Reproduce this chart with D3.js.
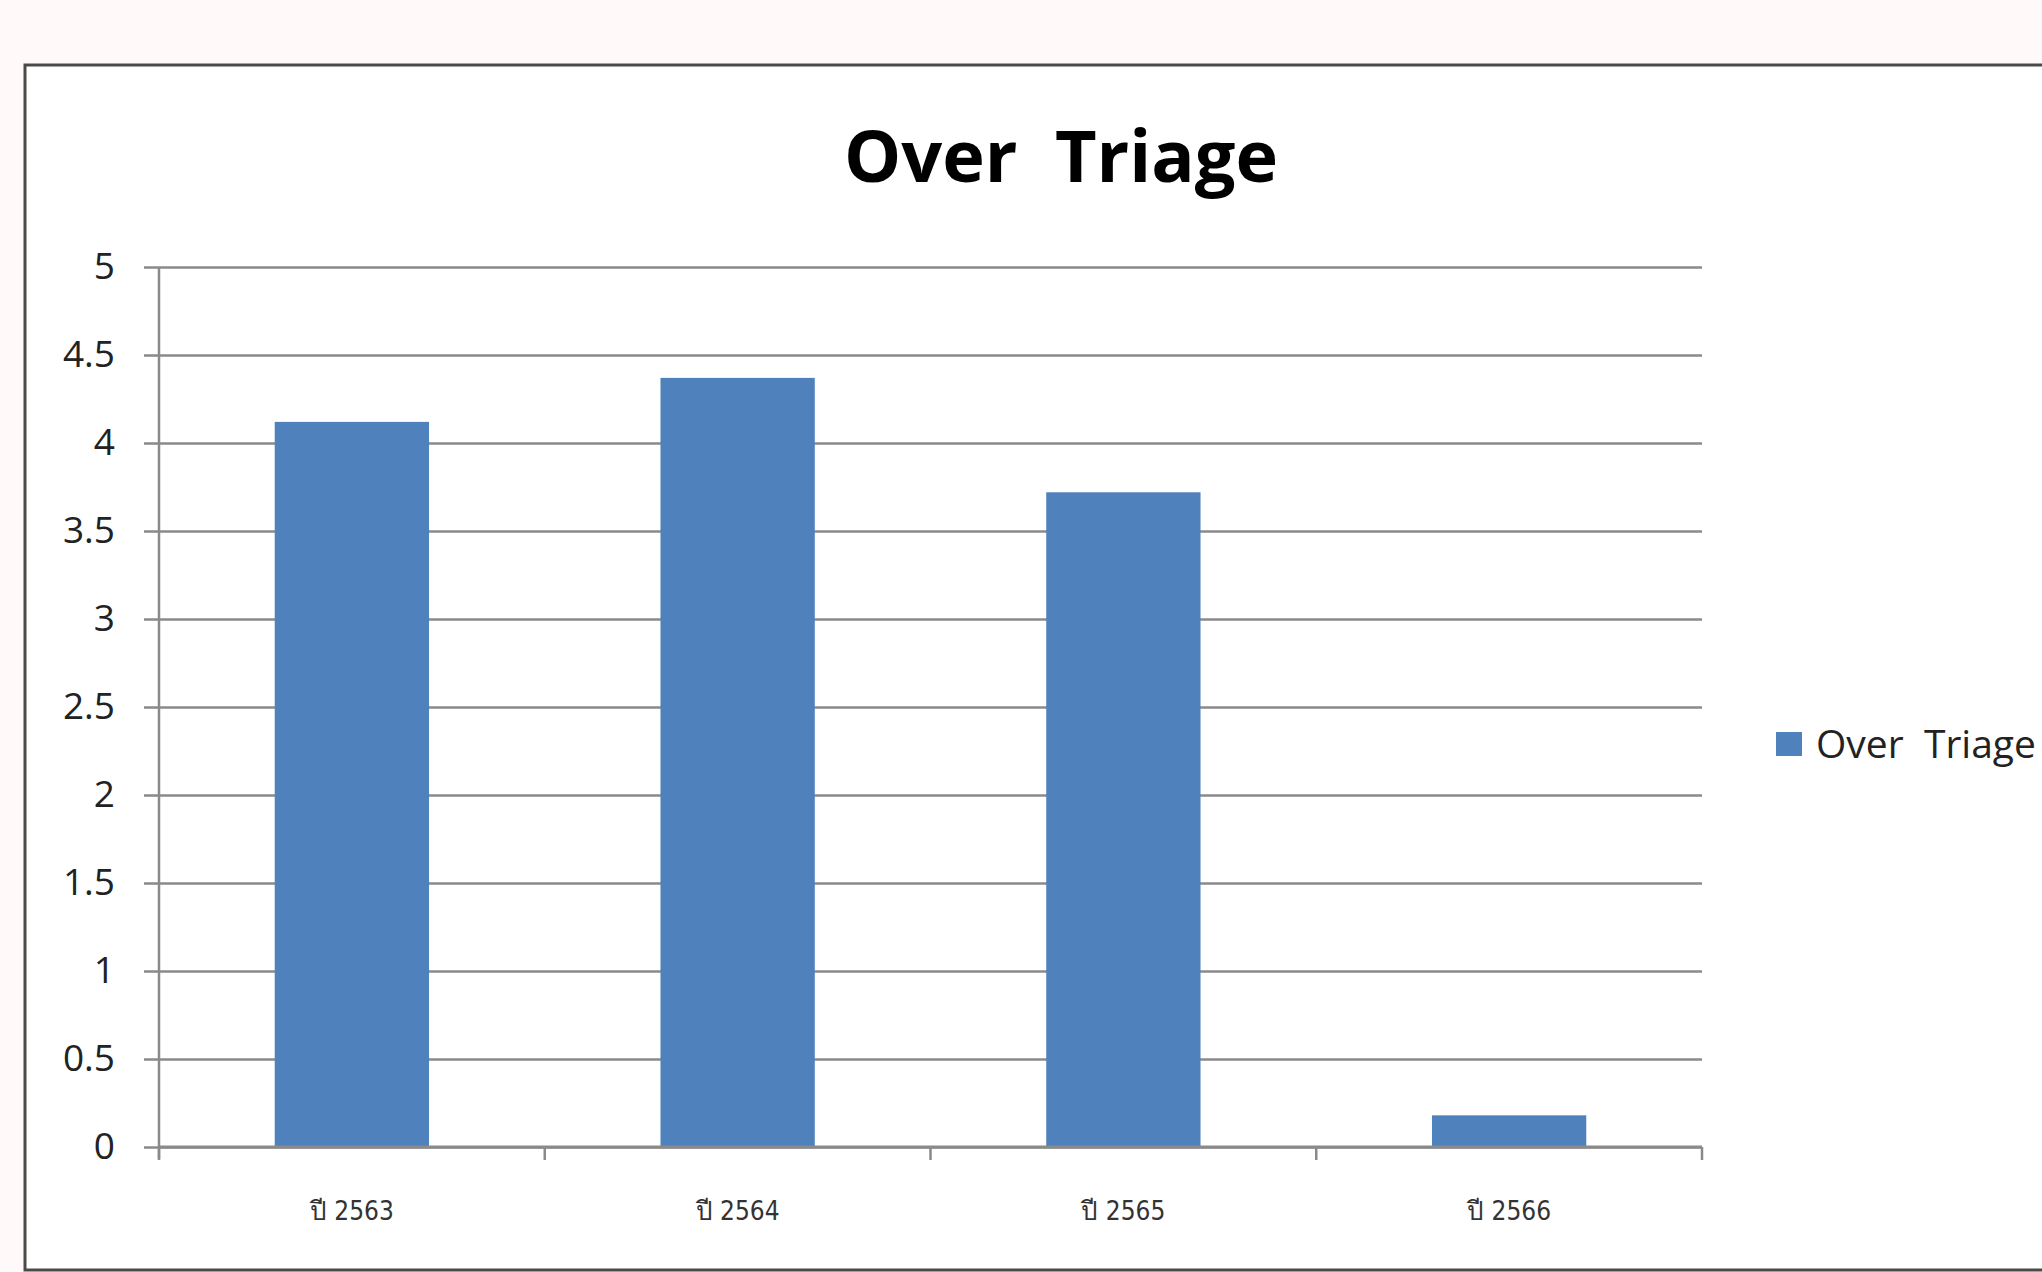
<!DOCTYPE html>
<html>
<head>
<meta charset="utf-8">
<script src="https://cdn.jsdelivr.net/npm/d3@7"></script>
<style>
  html, body { margin: 0; padding: 0; background: #fff9f9; }
  svg { display: block; }
</style>
</head>
<body>
<svg id="chart" width="2042" height="1272"></svg>
<script>
// Over Triage by fiscal year
const categories = ["ปี 2563", "ปี 2564", "ปี 2565", "ปี 2566"];
const overTriage = [4.12, 4.37, 3.72, 0.18];
const yTicks = [0, 0.5, 1, 1.5, 2, 2.5, 3, 3.5, 4, 4.5, 5];
const seriesName = "Over  Triage";
const chartTitle = "Over  Triage";

const svg = d3.select("#chart");
const font = "'Open Sans', Calibri, sans-serif";

// chart frame
svg.append("rect")
  .attr("x", 25).attr("y", 65)
  .attr("width", 2100).attr("height", 1205)
  .attr("fill", "#ffffff")
  .attr("stroke", "#4a4a4a").attr("stroke-width", 3);

const plot = { left: 159, right: 1702, top: 267, bottom: 1147 };

const x = d3.scaleBand()
  .domain(categories)
  .range([plot.left, plot.right])
  .paddingInner(0.6)
  .paddingOuter(0.3);

const y = d3.scaleLinear()
  .domain([0, 5])
  .range([plot.bottom, plot.top]);

// horizontal gridlines with short outer ticks
const yAxis = d3.axisLeft(y)
  .tickValues(yTicks)
  .tickSize(-(plot.right - plot.left))
  .tickFormat(d3.format("~g"))
  .tickPadding(44);

const gy = svg.append("g")
  .attr("transform", `translate(${plot.left},0)`)
  .call(yAxis);
gy.select(".domain").remove();
gy.selectAll(".tick line")
  .attr("x1", -15)
  .attr("stroke", "#8a8a8a")
  .attr("stroke-width", 2.5);
gy.selectAll(".tick text")
  .attr("font-family", font)
  .attr("font-size", 37)
  .attr("fill", "#222");

// vertical axis line
svg.append("line")
  .attr("x1", plot.left).attr("x2", plot.left)
  .attr("y1", plot.top).attr("y2", plot.bottom + 12)
  .attr("stroke", "#8a8a8a").attr("stroke-width", 2.5);

// bars
svg.append("g").selectAll("rect")
  .data(overTriage)
  .join("rect")
  .attr("x", (d, i) => x(categories[i]))
  .attr("width", x.bandwidth())
  .attr("y", d => y(d))
  .attr("height", d => y(0) - y(d))
  .attr("fill", "#4f81bd");

// category axis: ticks at band boundaries
const step = x.step();
const boundaries = d3.range(categories.length + 1).map(i => plot.left + i * step);
svg.append("line")
  .attr("x1", plot.left).attr("x2", plot.right)
  .attr("y1", plot.bottom).attr("y2", plot.bottom)
  .attr("stroke", "#8a8a8a").attr("stroke-width", 3);
svg.append("g").selectAll("line")
  .data(boundaries)
  .join("line")
  .attr("x1", d => d).attr("x2", d => d)
  .attr("y1", plot.bottom).attr("y2", plot.bottom + 13)
  .attr("stroke", "#8a8a8a").attr("stroke-width", 2.5);

svg.append("g").selectAll("text")
  .data(categories)
  .join("text")
  .attr("x", d => x(d) + x.bandwidth() / 2)
  .attr("y", 1220)
  .attr("text-anchor", "middle")
  .attr("font-family", "Tahoma, 'DejaVu Sans Condensed', sans-serif")
  .attr("font-size", 26)
  .attr("fill", "#333")
  .text(d => d);

// title
svg.append("text")
  .attr("x", 1061).attr("y", 182)
  .attr("text-anchor", "middle")
  .attr("font-family", font)
  .attr("font-weight", "bold")
  .attr("font-size", 72)
  .attr("fill", "#000")
  .style("white-space", "pre")
  .text(chartTitle);

// legend
const legend = svg.append("g").attr("transform", "translate(1776,732)");
legend.append("rect")
  .attr("width", 26).attr("height", 24)
  .attr("fill", "#4f81bd");
legend.append("text")
  .attr("x", 40).attr("y", 26)
  .attr("font-family", font)
  .attr("font-size", 39)
  .attr("fill", "#222")
  .style("white-space", "pre")
  .text(seriesName);
</script>
</body>
</html>
